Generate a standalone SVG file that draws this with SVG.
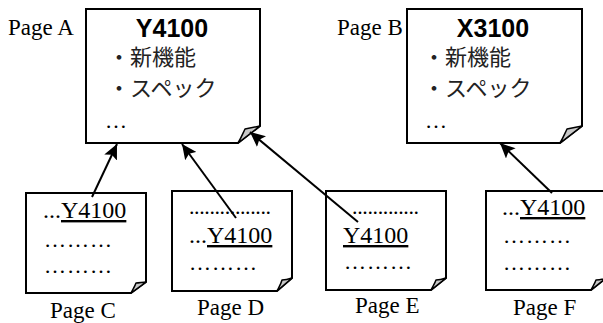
<svg xmlns="http://www.w3.org/2000/svg" width="603" height="323" viewBox="0 0 603 323">
<defs>
<style>
.pg{fill:#fff;stroke:#000;stroke-width:2;stroke-linejoin:miter}
.fold{fill:#c8c8c8;stroke:#000;stroke-width:1.5;stroke-linejoin:round}
.lbl{font-family:"Liberation Serif","Times New Roman",serif;font-size:23px;fill:#000}
.ttl{font-family:"Liberation Sans",Arial,sans-serif;font-size:25px;font-weight:bold;fill:#000;text-anchor:middle}
.jp{font-family:"Noto Sans CJK JP",sans-serif;font-size:22px;fill:#222}
.sr{font-family:"Liberation Serif","Times New Roman",serif;font-size:24px;fill:#000}
.dot{font-family:"Liberation Serif","Times New Roman",serif;font-size:22px;fill:#000}
.u{text-decoration:underline}
.con{stroke:#000;stroke-width:2;fill:none}
</style>
<marker id="ah" markerUnits="userSpaceOnUse" markerWidth="16" markerHeight="14" refX="15" refY="7" orient="auto">
<path d="M0,0 L15,7 L0,14 L3,7 Z" fill="#000"/>
</marker>
</defs>

<g id="pageA">
<path class="pg" d="M86,9 H260 V126 L238,143 H86 Z"/>
<path class="fold" d="M238,143 C241,138 243,133 245,129 C250,128 255,127 260,126 Z"/>
<text class="lbl" x="8" y="35">Page A</text>
<text class="ttl" x="172" y="37">Y4100</text>
<text class="jp" x="108" y="65">・新機能</text>
<text class="jp" x="108" y="96">・スペック</text>
<text class="dot" x="105" y="128">…</text>
</g>

<g id="pageB">
<path class="pg" d="M407,9 H582 V126 L560,143 H407 Z"/>
<path class="fold" d="M560,143 C563,138 565,133 567,129 C572,128 577,127 582,126 Z"/>
<text class="lbl" x="337" y="35">Page B</text>
<text class="ttl" x="493" y="37">X3100</text>
<text class="jp" x="423" y="65">・新機能</text>
<text class="jp" x="423" y="96">・スペック</text>
<text class="dot" x="425" y="128">…</text>
</g>

<g id="pageC">
<path class="pg" d="M26,193 H146 V282 L131,293 H26 Z"/>
<path class="fold" d="M131,293 C133,289 135,286 136,283 C139,283 143,282 146,282 Z"/>
<text class="sr" x="43" y="218">...<tspan class="u">Y4100</tspan></text>
<text class="dot" x="44" y="247" textLength="68" lengthAdjust="spacing">………</text>
<text class="dot" x="44" y="273" textLength="68" lengthAdjust="spacing">………</text>
<text class="lbl" x="50" y="318">Page C</text>
</g>

<g id="pageD">
<path class="pg" d="M172,191 H292 V278 L277,291 H172 Z"/>
<path class="fold" d="M277,291 C279,287 281,284 282,280 C285,280 289,279 292,278 Z"/>
<text class="dot" x="189" y="214" textLength="82" lengthAdjust="spacing">................</text>
<text class="sr" x="189" y="243">...<tspan class="u">Y4100</tspan></text>
<text class="dot" x="189" y="270" textLength="68" lengthAdjust="spacing">………</text>
<text class="lbl" x="197" y="315">Page D</text>
</g>

<g id="pageE">
<path class="pg" d="M326,191 H446 V278 L431,290 H326 Z"/>
<path class="fold" d="M431,290 C433,286 435,283 436,280 C439,280 443,279 446,278 Z"/>
<text class="dot" x="352" y="214" textLength="67" lengthAdjust="spacing">.............</text>
<text class="sr" x="343" y="243"><tspan class="u">Y4100</tspan></text>
<text class="dot" x="344" y="269" textLength="68" lengthAdjust="spacing">………</text>
<text class="lbl" x="355" y="313">Page E</text>
</g>

<g id="pageF">
<path class="pg" d="M486,191 H606 V278 L591,290 H486 Z"/>
<path class="fold" d="M591,290 C593,286 595,283 596,280 C599,280 603,279 606,278 Z"/>
<text class="sr" x="502" y="215">...<tspan class="u">Y4100</tspan></text>
<text class="dot" x="503" y="243" textLength="68" lengthAdjust="spacing">………</text>
<text class="dot" x="503" y="270" textLength="68" lengthAdjust="spacing">………</text>
<text class="lbl" x="513" y="315">Page F</text>
</g>

<g id="connectors">
<line class="con" x1="92" y1="197" x2="117" y2="144" marker-end="url(#ah)"/>
<line class="con" x1="236" y1="218" x2="182" y2="144" marker-end="url(#ah)"/>
<line class="con" x1="358" y1="222" x2="250" y2="132" marker-end="url(#ah)"/>
<line class="con" x1="552" y1="193" x2="500" y2="143" marker-end="url(#ah)"/>
</g>
</svg>
